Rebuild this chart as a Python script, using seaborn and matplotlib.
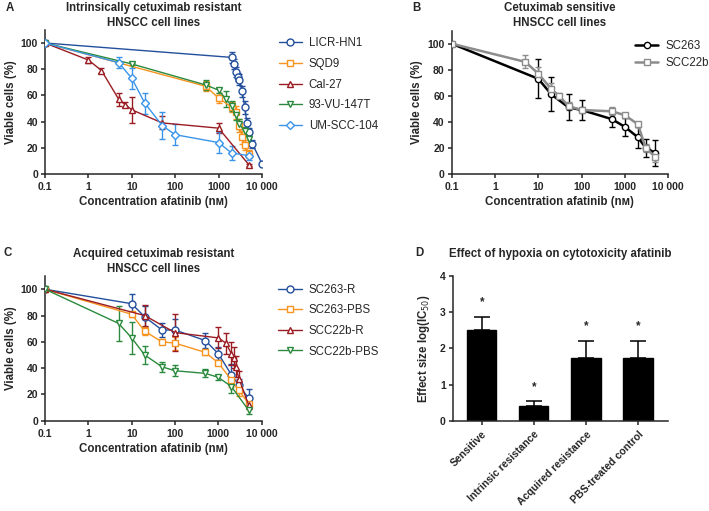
import numpy as np
import pandas as pd
import matplotlib
matplotlib.use("Agg")
import matplotlib.pyplot as plt
import seaborn as sns

# ---------------------- #
# Data #
# ---------------------- #
# Panel A - intrinsically resistant
licr_x = [0.1, 2000, 2250, 2500, 2750, 3000, 3500, 4000, 4500, 5000, 6000, 10000]
licr_y = [100, 89, 84, 78, 74, 72, 63, 51, 39, 32, 23, 8]
licr_e = [1, 4, 4, 4, 3, 4, 4, 5, 4, 3, 3, 1]

sqd9_x = [0.1, 500, 1000, 2000, 2500, 3000, 3500, 4000, 5000]
sqd9_y = [100, 67, 58, 51, 47, 37, 28, 22, 15]
sqd9_e = [1, 4, 4, 4, 5, 5, 5, 4, 3]

cal27_x = [0.1, 1, 2, 5, 7, 10, 50, 1000, 5000]
cal27_y = [100, 87, 79, 57, 53, 49, 39, 35, 7]
cal27_e = [1, 2, 2, 5, 2, 10, 5, 4, 1]

vu147_x = [0.1, 10, 500, 1000, 1500, 2000, 2500, 3000, 4000, 5000]
vu147_y = [100, 84, 68, 64, 57, 52, 45, 38, 33, 27]
vu147_e = [1, 1, 4, 2, 6, 4, 4, 4, 3, 3]

um104_x = [0.1, 5, 10, 20, 50, 100, 1000, 2000, 5000]
um104_y = [100, 85, 73, 54, 37, 30, 24, 16, 14]
um104_e = [1, 4, 8, 8, 10, 8, 8, 5, 3]

# Panel B - sensitive
sc263_x = [0.1, 10, 20, 50, 100, 500, 1000, 2000, 3000, 5000]
sc263_y = [100, 73, 61, 51, 49, 42, 36, 28, 20, 16]
sc263_e = [1, 15, 13, 10, 8, 6, 7, 8, 7, 10]

scc22b_x = [0.1, 5, 10, 20, 30, 50, 100, 500, 1000, 2000, 3000, 5000]
scc22b_y = [100, 86, 77, 65, 60, 52, 49, 48, 45, 38, 20, 13]
scc22b_e = [1, 5, 5, 5, 2, 3, 2, 3, 2, 2, 3, 4]

# Panel C - acquired resistance
sc263r_x = [0.1, 10, 20, 50, 100, 500, 1000, 2000, 3000, 5000]
sc263r_y = [100, 89, 79, 69, 69, 61, 51, 35, 27, 17]
sc263r_e = [1, 7, 8, 5, 8, 6, 5, 8, 5, 7]

sc263pbs_x = [0.1, 10, 20, 50, 100, 500, 1000, 2000, 3000, 5000]
sc263pbs_y = [100, 81, 68, 60, 59, 52, 44, 31, 23, 13]
sc263pbs_e = [1, 2, 3, 2, 5, 2, 2, 5, 4, 4]

scc22br_x = [0.1, 20, 100, 1000, 1500, 2000, 2250, 2500, 3000, 5000]
scc22br_y = [100, 80, 67, 63, 59, 51, 48, 41, 32, 12]
scc22br_e = [1, 8, 14, 8, 8, 9, 8, 8, 6, 3]

scc22bpbs_x = [0.1, 5, 10, 20, 50, 100, 500, 1000, 2000, 5000]
scc22bpbs_y = [100, 74, 63, 50, 41, 38, 36, 33, 26, 8]
scc22bpbs_e = [1, 13, 12, 7, 4, 4, 3, 2, 5, 3]

# Panel D - effect of hypoxia
groups = ["Sensitive", "Intrinsic resistance", "Acquired resistance", "PBS-treated control"]
effect = [2.50, 0.42, 1.74, 1.74]
effect_err = [0.38, 0.12, 0.47, 0.47]

x_ticks = [0.1, 1, 10, 100, 1000, 10000]
x_ticklabels = ["0.1", "1", "10", "100", "1000", "10 000"]

# ---------------------- #
# Style                  #
# ---------------------- #
sns.set_theme(style="ticks")
plt.rcParams["font.family"] = ["Liberation Sans", "DejaVu Sans"]
plt.rcParams["axes.linewidth"] = 1.1
plt.rcParams["xtick.major.width"] = 1.1
plt.rcParams["ytick.major.width"] = 1.1
plt.rcParams["xtick.major.size"] = 3
plt.rcParams["ytick.major.size"] = 3
plt.rcParams["xtick.major.pad"] = 3
plt.rcParams["ytick.major.pad"] = 2

DBLUE = "#234f9c"
ORANGE = "#f7931e"
DRED = "#9a1c22"
GREEN = "#2b8a3e"
LBLUE = "#3a95ea"

FS = 7.5     # tick labels
LFS = 8.3    # axis labels, titles, legends

fig = plt.figure(figsize=(7.09, 5.11), dpi=100)
axA = fig.add_axes([0.0635, 0.6595, 0.306, 0.282])
axB = fig.add_axes([0.637, 0.6600, 0.3055, 0.280])
axC = fig.add_axes([0.0635, 0.1767, 0.3055, 0.283])
axD = fig.add_axes([0.6385, 0.1767, 0.304, 0.283])


def curve(ax, xs, ys, es, color, marker, label, lw=1.0, ms=5):
    df = pd.DataFrame({"x": xs, "y": ys})
    ax.errorbar(xs, ys, yerr=es, fmt="none", ecolor=color, elinewidth=1.0,
                capsize=2.5, capthick=1.0, zorder=2)
    sns.lineplot(data=df, x="x", y="y", ax=ax, color=color, marker=marker,
                 markersize=ms, markerfacecolor="white", markeredgecolor=color,
                 markeredgewidth=1.0, linewidth=lw, label=label, zorder=3,
                 sort=False)


def dose_axes(ax, title):
    ax.set_xscale("log")
    ax.set_xlim(0.1, 10000)
    ax.set_ylim(0, 110)
    ax.set_xticks(x_ticks)
    ax.set_xticklabels(x_ticklabels)
    ax.minorticks_off()
    ax.set_yticks([0, 20, 40, 60, 80, 100])
    ax.tick_params(labelsize=FS)
    for lab in ax.get_xticklabels() + ax.get_yticklabels():
        lab.set_fontweight("bold")
    ax.set_xlabel("Concentration afatinib (nм)", fontsize=LFS, fontweight="bold", labelpad=3)
    ax.set_ylabel("Viable cells (%)", fontsize=LFS, fontweight="bold", labelpad=3)
    ax.set_title(title, fontsize=LFS, fontweight="bold", pad=3, linespacing=1.35)
    sns.despine(ax=ax)


# Panel A
curve(axA, licr_x, licr_y, licr_e, DBLUE, "o", "LICR-HN1")
curve(axA, sqd9_x, sqd9_y, sqd9_e, ORANGE, "s", "SQD9")
curve(axA, cal27_x, cal27_y, cal27_e, DRED, "^", "Cal-27")
curve(axA, vu147_x, vu147_y, vu147_e, GREEN, "v", "93-VU-147T")
curve(axA, um104_x, um104_y, um104_e, LBLUE, "D", "UM-SCC-104", ms=4.5)
dose_axes(axA, "Intrinsically cetuximab resistant\nHNSCC cell lines")
axA.legend(loc="upper left", bbox_to_anchor=(1.03, 1.02), frameon=False,
           fontsize=LFS, handlelength=2.0, labelspacing=0.75, handletextpad=0.6)

# Panel B
curve(axB, sc263_x, sc263_y, sc263_e, "black", "o", "SC263", lw=1.8, ms=4.5)
curve(axB, scc22b_x, scc22b_y, scc22b_e, "#8c8c8c", "s", "SCC22b", lw=1.8, ms=5)
dose_axes(axB, "Cetuximab sensitive\nHNSCC cell lines")
axB.legend(loc="upper left", bbox_to_anchor=(0.8, 1.01), frameon=False,
           fontsize=LFS, handlelength=2.0, labelspacing=0.48, handletextpad=0.6)

# Panel C
curve(axC, sc263r_x, sc263r_y, sc263r_e, DBLUE, "o", "SC263-R")
curve(axC, sc263pbs_x, sc263pbs_y, sc263pbs_e, ORANGE, "s", "SC263-PBS")
curve(axC, scc22br_x, scc22br_y, scc22br_e, DRED, "^", "SCC22b-R")
curve(axC, scc22bpbs_x, scc22bpbs_y, scc22bpbs_e, GREEN, "v", "SCC22b-PBS")
dose_axes(axC, "Acquired cetuximab resistant\nHNSCC cell lines")
axC.legend(loc="upper left", bbox_to_anchor=(1.03, 1.02), frameon=False,
           fontsize=LFS, handlelength=2.0, labelspacing=0.75, handletextpad=0.6)

# Panel D
dfD = pd.DataFrame({"group": groups, "effect": effect})
sns.barplot(data=dfD, x="group", y="effect", ax=axD, color="black", width=0.56,
            edgecolor="black", errorbar=None)
pos = np.arange(len(groups))
axD.errorbar(pos, effect, yerr=[np.zeros(len(groups)), effect_err], fmt="none",
             ecolor="black", elinewidth=1.1, capsize=6, capthick=1.1, zorder=0)
for p, m, e in zip(pos, effect, effect_err):
    axD.text(p, m + e + 0.4, "*", ha="center", va="center", fontsize=FS + 1,
             fontweight="bold")
axD.set_xlim(-0.56, 3.58)
axD.set_ylim(0, 4)
axD.set_yticks([0, 1, 2, 3, 4])
axD.tick_params(labelsize=FS)
axD.set_xticks(pos)
axD.set_xticklabels(groups, rotation=45, ha="right", rotation_mode="anchor")
for lab in axD.get_xticklabels() + axD.get_yticklabels():
    lab.set_fontweight("bold")
axD.set_xlabel("")
axD.set_ylabel("Effect size log(IC$_{50}$)", fontsize=LFS, fontweight="bold", labelpad=6)
axD.set_title("Effect of hypoxia on cytotoxicity afatinib", fontsize=LFS,
              fontweight="bold", pad=14)
sns.despine(ax=axD)

# Panel letters
for lbl, (xx, yy) in zip("ABCD", [(0.008, 0.984), (0.581, 0.984), (0.005, 0.505), (0.585, 0.505)]):
    fig.text(xx, yy, lbl, fontsize=LFS, fontweight="bold", va="center")

fig.savefig("out.png", dpi=100)
